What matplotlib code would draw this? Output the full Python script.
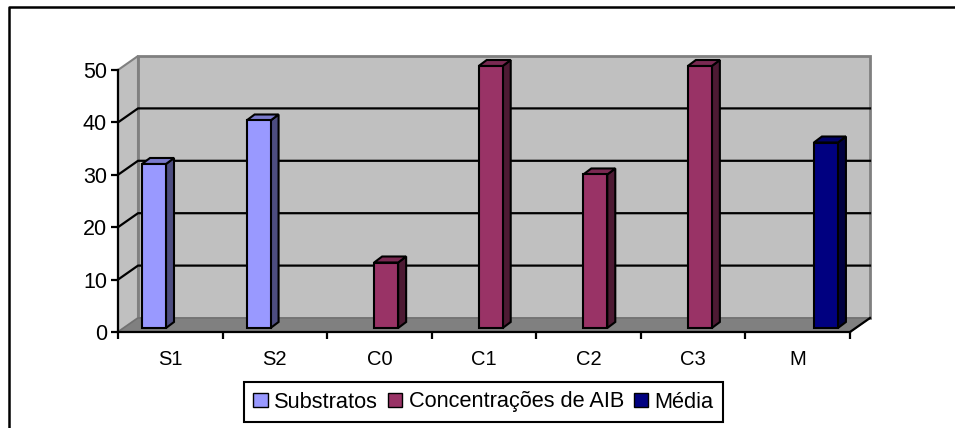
# coding: utf-8
import matplotlib
matplotlib.use('Agg')
import matplotlib.pyplot as plt
from matplotlib.lines import Line2D
from matplotlib.patches import Patch, Polygon

categories = ['S1', 'S2', 'C0', 'C1', 'C2', 'C3', 'M']
substratos = [31.3, 39.6, None, None, None, None, None]
concentracoes = [None, None, 12.5, 50, 29.3, 50, None]
media = [None, None, None, None, None, None, 35.4]
y_ticks = [0, 10, 20, 30, 40, 50]

W, H = 955, 428
plt.rcParams['font.family'] = ['Liberation Sans', 'DejaVu Sans']

fig = plt.figure(figsize=(W / 100, H / 100), dpi=100)
# front plane of the fake 3D box, in pixels
left, right, bottom, top = 118, 850, 332, 70
ax = fig.add_axes([left / W, 1 - bottom / H, (right - left) / W, (bottom - top) / H])
ax.set_xlim(0, len(categories))
ax.set_ylim(0, 50)
ax.patch.set_visible(False)

ux = len(categories) / (right - left)  # data units per pixel
uy = 50 / (bottom - top)
wall_dx, wall_dy = 20 * ux, 14 * uy


def poly(points, color, edge='none', lw=0, z=1):
    ax.add_patch(Polygon(points, closed=True, facecolor=color, edgecolor=edge,
                         linewidth=lw, zorder=z, clip_on=False))


n = len(categories)
# walls and floor
poly([(wall_dx, wall_dy), (n + wall_dx, wall_dy), (n + wall_dx, 50 + wall_dy), (wall_dx, 50 + wall_dy)],
     '#C0C0C0', '#808080', 2)
poly([(0, 0), (wall_dx, wall_dy), (wall_dx, 50 + wall_dy), (0, 50)], '#C0C0C0', '#808080', 1.5)
poly([(0, 0), (n, 0), (n + wall_dx, wall_dy), (wall_dx, wall_dy)], '#808080', '#707070', 1)
ax.plot([n, n + wall_dx], [0, wall_dy], color='k', lw=1.6, zorder=2, clip_on=False)

# gridlines on back and side wall, the top edge stays grey
for t in y_ticks[1:-1]:
    ax.plot([0, wall_dx, n + wall_dx], [t, t + wall_dy, t + wall_dy], color='k', lw=1.6,
            zorder=2, clip_on=False)


def bars(values, offset, front, side, roof):
    bw = 24 * ux
    dx, dy = 8 * ux, 6 * uy
    base = 4 * uy
    for i, v in enumerate(values):
        if v is None:
            continue
        x0 = i + offset
        x1 = x0 + bw
        y0 = base
        y1 = base + v
        lines = dict(edge='k', lw=1.5, z=4)
        poly([(x1, y0), (x1 + dx, y0 + dy), (x1 + dx, y1 + dy), (x1, y1)], side, **lines)
        poly([(x0, y1), (x1, y1), (x1 + dx, y1 + dy), (x0 + dx, y1 + dy)], roof, **lines)
        ax.bar(x0, v, width=bw, bottom=y0, align='edge', color=front, edgecolor='k',
               linewidth=1.5, zorder=5, clip_on=False)


bars(substratos, 24 * ux, '#9999FF', '#4D4D80', '#7A7ACC')
bars(concentracoes, 47 * ux, '#993366', '#4D1A33', '#7A2952')
bars(media, 68.5 * ux, '#000080', '#000040', '#000066')

for s in ['top', 'right']:
    ax.spines[s].set_visible(False)
for s in ['left', 'bottom']:
    ax.spines[s].set_linewidth(1.6)
    ax.spines[s].set_zorder(6)
ax.set_yticks(y_ticks)
ax.set_xticks(range(n + 1))
ax.set_xticklabels([])
ax.set_xticks([i + 0.5 for i in range(n)], categories, minor=True)
ax.tick_params(axis='y', labelsize=15.5, length=5, width=1.6, pad=3)
ax.tick_params(axis='x', which='major', length=5, width=1.6)
ax.tick_params(axis='x', which='minor', length=0, labelsize=14.5, pad=13)

handles = [Patch(facecolor='#9999FF', edgecolor='k', label='Substratos'),
           Patch(facecolor='#993366', edgecolor='k', label='Concentrações de AIB'),
           Patch(facecolor='#000080', edgecolor='k', label='Média')]
leg = fig.legend(handles=handles, loc='center', bbox_to_anchor=(483.5 / W, 1 - 402 / H),
                 ncol=3, fontsize=15.7, frameon=True, fancybox=False, edgecolor='k', framealpha=1,
                 handlelength=0.65, handleheight=0.65, handletextpad=0.3, columnspacing=0.45,
                 borderpad=0.42, borderaxespad=0)
leg.get_frame().set_linewidth(1.5)

# outer chart frame, open at right and bottom
fig.add_artist(Line2D([9 / W, 9 / W, 1], [0, 1 - 7 / H, 1 - 7 / H], color='k', lw=1.8))

fig.savefig('out.png', dpi=100)
